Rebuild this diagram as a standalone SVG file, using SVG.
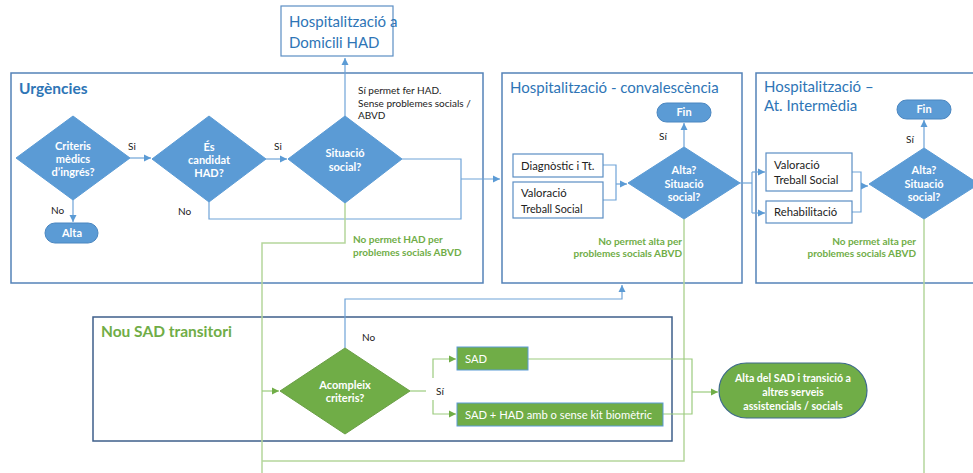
<svg xmlns="http://www.w3.org/2000/svg" width="973" height="473" viewBox="0 0 973 473">
<style>
text{font-family:Lato,"Liberation Sans",sans-serif}
.cont{fill:none;stroke:#5482B8;stroke-width:1.5}
.cont2{fill:none;stroke:#3E5F8A;stroke-width:1.5}
.dia{fill:#5B9BD5;stroke:#5B9BD5;stroke-width:1}
.gdia{fill:#70AD47;stroke:#6A9F46;stroke-width:1}
.pill{fill:#5B9BD5;stroke:#4A86C0;stroke-width:1}
.gbox{fill:#70AD47;stroke:#5B9BD5;stroke-width:1}
.wbox{fill:#fff;stroke:#5B8EC4;stroke-width:1.2}
.wt{fill:#fff;font-weight:bold;font-size:11px;text-anchor:middle}
.gt{fill:#fff;font-size:11.2px}
.bt{fill:#222;font-size:11.3px}
.lbl{fill:#222;font-size:10px}
.grt{fill:#70AD47;font-weight:bold;font-size:10px}
.title{fill:#2E75B6;font-size:15px}
.bl{fill:none;stroke:#6FA3D8;stroke-width:1.2}
.gl{fill:none;stroke:#B5D69C;stroke-width:1.5}
.ga{fill:none;stroke:#9CCB7E;stroke-width:1.2}
</style>
<defs>
<marker id="ab" markerWidth="8" markerHeight="8" refX="7" refY="4" orient="auto" markerUnits="userSpaceOnUse"><path d="M0,0.5 L7,4 L0,7.5 Z" fill="#5B9BD5"/></marker>
<marker id="ag" markerWidth="8" markerHeight="8" refX="7" refY="4" orient="auto" markerUnits="userSpaceOnUse"><path d="M0,0.5 L7,4 L0,7.5 Z" fill="#70AD47"/></marker>
</defs>

<g id="urgencies">
<rect class="cont" x="11" y="73" width="472" height="210"/>
<text x="19" y="94" style="fill:#2E75B6;font-weight:bold;font-size:15.5px">Urgències</text>
</g>
<g id="convalescencia">
<rect class="cont" x="502" y="73" width="240" height="210"/>
<text class="title" x="510" y="93">Hospitalització - convalescència</text>
</g>
<g id="intermedia">
<rect class="cont" x="756" y="73" width="230" height="210"/>
<text class="title" x="764" y="92">Hospitalització –</text>
<text class="title" x="764" y="111">At. Intermèdia</text>
</g>
<g id="nou-sad">
<rect class="cont2" x="93" y="317" width="579" height="124"/>
<text x="101" y="337" style="fill:#70AD47;font-weight:bold;font-size:15.5px">Nou SAD transitori</text>
</g>

<g id="connectors">
<path class="bl" d="M130,158 H151" marker-end="url(#ab)"/>
<path class="bl" d="M266,159 H287" marker-end="url(#ab)"/>
<path class="bl" d="M73,200 V222" marker-end="url(#ab)"/>
<path class="bl" d="M402,159 H461 V219 H209 V202"/>
<path class="bl" d="M461,179 H500" marker-end="url(#ab)"/>
<path class="bl" d="M345,116 V58" marker-end="url(#ab)"/>
<path class="gl" d="M345,203 V243 H262 V473"/>
<path class="gl" d="M262,461 H684 V219"/>
<path class="gl" d="M924,219 V473"/>
<path class="ga" d="M262,391 H279" marker-end="url(#ag)"/>
<path class="bl" d="M684,147 V123" marker-end="url(#ab)"/>
<path class="bl" d="M924,148 V120" marker-end="url(#ab)"/>
<path class="bl" d="M603,165 H616 V200 H603"/>
<path class="bl" d="M616,184 H627" marker-end="url(#ab)"/>
<path class="bl" d="M740,183 H752"/>
<path class="bl" d="M752,172 V213"/>
<path class="bl" d="M752,172 H765" marker-end="url(#ab)"/>
<path class="bl" d="M752,213 H765" marker-end="url(#ab)"/>
<path class="bl" d="M852,172 H861 V212 H852"/>
<path class="bl" d="M861,186 H868" marker-end="url(#ab)"/>
<path class="bl" d="M345,348 V299 H622 V285" marker-end="url(#ab)"/>
<path class="ga" d="M410,391 H426"/>
<path class="ga" d="M433,378 V359 H456" marker-end="url(#ag)"/>
<path class="ga" d="M433,400 V414 H456" marker-end="url(#ag)"/>
<path class="ga" d="M528,359 H692 V414 H663"/>
<path class="ga" d="M692,392 H718" marker-end="url(#ag)"/>
<text class="lbl" x="128" y="150">Si</text>
<text class="lbl" x="274" y="150">Si</text>
<text class="lbl" x="51" y="214">No</text>
<text class="lbl" x="178" y="215">No</text>
<text class="lbl" x="358" y="94">Sí permet fer HAD.</text>
<text class="lbl" x="358" y="107">Sense problemes socials /</text>
<text class="lbl" x="358" y="119">ABVD</text>
<text class="grt" x="353" y="243">No permet HAD per</text>
<text class="grt" x="353" y="256">problemes socials ABVD</text>
<text class="lbl" x="659" y="140">Sí</text>
<text class="grt" x="682" y="245" text-anchor="end">No permet alta per</text>
<text class="grt" x="682" y="257" text-anchor="end">problemes socials ABVD</text>
<text class="lbl" x="906" y="143">Sí</text>
<text class="grt" x="916" y="245" text-anchor="end">No permet alta per</text>
<text class="grt" x="916" y="257" text-anchor="end">problemes socials ABVD</text>
<text class="lbl" x="362" y="341">No</text>
<text class="lbl" x="436" y="395">Sí</text>
</g>

<g id="had">
<rect class="wbox" x="281" y="6" width="112" height="50"/>
<text class="title" x="289" y="27">Hospitalització a</text>
<text class="title" x="289" y="48">Domicili HAD</text>
</g>
<g id="criteris">
<polygon class="dia" points="16,158 73,116 130,158 73,200"/>
<text class="wt" x="73" y="150">Criteris</text>
<text class="wt" x="73" y="163">mèdics</text>
<text class="wt" x="73" y="176">d’ingrés?</text>
</g>
<g id="candidat">
<polygon class="dia" points="152,159 209,116 266,159 209,202"/>
<text class="wt" x="209" y="151">És</text>
<text class="wt" x="209" y="164">candidat</text>
<text class="wt" x="209" y="177">HAD?</text>
</g>
<g id="situacio">
<polygon class="dia" points="288,159 345,116 402,159 345,203"/>
<text class="wt" x="345" y="157">Situació</text>
<text class="wt" x="345" y="171">social?</text>
</g>
<g id="alta">
<rect class="pill" x="45" y="223" width="53" height="20" rx="10"/>
<text class="wt" x="72" y="237">Alta</text>
</g>
<g id="fin1">
<rect class="pill" x="657" y="103" width="54" height="19" rx="9.5"/>
<text class="wt" x="684" y="116">Fin</text>
</g>
<g id="diagnostic">
<rect class="wbox" x="513" y="154" width="90" height="23"/>
<text class="bt" x="521" y="170">Diagnòstic i Tt.</text>
</g>
<g id="valoracio1">
<rect class="wbox" x="513" y="182" width="90" height="36"/>
<text class="bt" x="521" y="197">Valoració</text>
<text class="bt" x="521" y="213" style="font-size:10.8px">Treball Social</text>
</g>
<g id="alta-conv">
<polygon class="dia" points="628,183 684,147 740,183 684,219"/>
<text class="wt" x="684" y="174">Alta?</text>
<text class="wt" x="684" y="188">Situació</text>
<text class="wt" x="684" y="201">social?</text>
</g>
<g id="valoracio2">
<rect class="wbox" x="766" y="153" width="86" height="38"/>
<text class="bt" x="774" y="169">Valoració</text>
<text class="bt" x="774" y="184">Treball Social</text>
</g>
<g id="rehab">
<rect class="wbox" x="766" y="201" width="86" height="22"/>
<text class="bt" x="774" y="216">Rehabilitació</text>
</g>
<g id="alta-int">
<polygon class="dia" points="869,184 924,148 979,184 924,219"/>
<text class="wt" x="924" y="174">Alta?</text>
<text class="wt" x="924" y="188">Situació</text>
<text class="wt" x="924" y="201">social?</text>
</g>
<g id="fin2">
<rect class="pill" x="897" y="100" width="54" height="19" rx="9.5"/>
<text class="wt" x="924" y="113">Fin</text>
</g>
<g id="acompleix">
<polygon class="gdia" points="280,391 345,348 410,391 345,434"/>
<text class="wt" x="345" y="389">Acompleix</text>
<text class="wt" x="345" y="402">criteris?</text>
</g>
<g id="sad">
<rect class="gbox" x="457" y="347" width="71" height="23"/>
<text class="gt" x="465" y="363">SAD</text>
</g>
<g id="sad-had">
<rect class="gbox" x="457" y="403" width="206" height="23"/>
<text class="gt" x="465" y="419">SAD + HAD amb o sense kit biomètric</text>
</g>
<g id="alta-sad">
<rect x="719" y="363" width="148" height="55" rx="27.5" fill="#70AD47" stroke="#3E6A8C" stroke-width="1.2"/>
<text class="wt" x="793" y="382" style="font-size:10.6px">Alta del SAD i transició a</text>
<text class="wt" x="793" y="396" style="font-size:10.6px">altres serveis</text>
<text class="wt" x="793" y="410" style="font-size:10.6px">assistencials / socials</text>
</g>
</svg>
